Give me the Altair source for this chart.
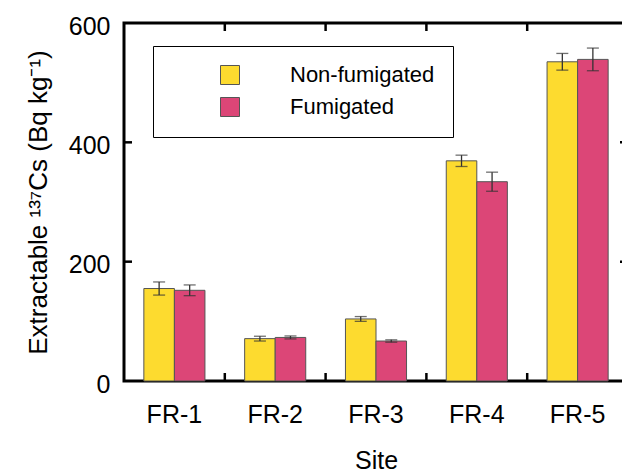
import altair as alt
import pandas as pd

sites = ["FR-1", "FR-2", "FR-3", "FR-4", "FR-5"]
treatments = ["Non-fumigated", "Fumigated"]
non_fum = [155, 71, 104, 369, 535]
non_fum_err = [11, 4, 4, 9.5, 14]
fum = [152, 73, 67, 334, 539]
fum_err = [9, 2.5, 2, 16, 19]
y_ticks = [0, 200, 400, 600]

rows = []
for i, s in enumerate(sites):
    for t, v, e in ((treatments[0], non_fum[i], non_fum_err[i]), (treatments[1], fum[i], fum_err[i])):
        rows.append(dict(site=s, trt=t, value=v, lo=v - e, hi=v + e))
df = pd.DataFrame(rows)

xtick_df = pd.DataFrame({"site": sites[1:]})
ytick_df = pd.DataFrame({"v": y_ticks[1:-1]})

W, H = 504, 358
FONT = "Liberation Sans"
YELLOW = "#FDDB2F"
PINK = "#DC4677"

xscale = alt.Scale(domain=sites, paddingInner=0, paddingOuter=0)
yscale = alt.Scale(domain=[0, 600])
xo = alt.XOffset("trt:N", sort=treatments,
                 scale=alt.Scale(domain=treatments, paddingInner=0, paddingOuter=0.65))

x_main = alt.X("site:N", sort=sites, scale=xscale,
               axis=alt.Axis(title="Site", labelAngle=0, ticks=False, domain=False,
                             labelFontSize=25, labelPadding=21, titleFontSize=25,
                             titlePadding=21, titleFontWeight="normal",
                             labelColor="black", titleColor="black"))
y_main = alt.Y("value:Q", scale=yscale,
               axis=alt.Axis(title="Extractable ¹³⁷Cs (Bq kg⁻¹)", values=y_ticks,
                             ticks=False, domain=False, grid=False,
                             labelFontSize=25, labelPadding=14, labelOffset=3,
                             titleFontSize=26, titleFontWeight="normal", titlePadding=17,
                             labelColor="black", titleColor="black"))

bars = alt.Chart(df).mark_bar(stroke="#555555", strokeWidth=1).encode(
    x=x_main,
    xOffset=xo,
    y=y_main,
    color=alt.Color("trt:N", sort=treatments,
                    scale=alt.Scale(domain=treatments, range=[YELLOW, PINK]),
                    legend=alt.Legend(title=None, orient="none", legendX=29, legendY=23,
                                      padding=18, strokeColor="black",
                                      symbolType="square", symbolSize=361,
                                      symbolOffset=48, labelOffset=49,
                                      labelFontSize=22, rowPadding=8, labelLimit=300,
                                      labelExpr="datum.label + '\u00a0\u00a0'",
                                      symbolStrokeWidth=1, labelColor="black")),
)

xe = alt.X("site:N", sort=sites, scale=xscale)
err = alt.Chart(df).mark_rule(color="#333333", strokeWidth=1.3).encode(
    x=xe, xOffset=xo, y=alt.Y("lo:Q", scale=yscale), y2="hi:Q")
cap_hi = alt.Chart(df).mark_tick(color="#333333", thickness=1.3, size=12).encode(
    x=xe, xOffset=xo, y=alt.Y("hi:Q", scale=yscale))
cap_lo = alt.Chart(df).mark_tick(color="#333333", thickness=1.3, size=12).encode(
    x=xe, xOffset=xo, y=alt.Y("lo:Q", scale=yscale))

xb = alt.X("site:N", sort=sites, scale=xscale, bandPosition=0)
xt_bottom = alt.Chart(xtick_df).mark_rule(color="black", strokeWidth=2.5).encode(
    x=xb, y=alt.value(H), y2=alt.value(H - 8))
xt_top = alt.Chart(xtick_df).mark_rule(color="black", strokeWidth=2.5).encode(
    x=xb, y=alt.value(0), y2=alt.value(8))
yt_left = alt.Chart(ytick_df).mark_rule(color="black", strokeWidth=2.5).encode(
    y=alt.Y("v:Q", scale=yscale), x=alt.value(0), x2=alt.value(8))
yt_right = alt.Chart(ytick_df).mark_rule(color="black", strokeWidth=2.5).encode(
    y=alt.Y("v:Q", scale=yscale), x=alt.value(W), x2=alt.value(W - 8))

chart = alt.layer(bars, err, cap_hi, cap_lo, xt_bottom, xt_top, yt_left, yt_right).properties(
    width=W, height=H,
    autosize=alt.AutoSizeParams(type="none"),
    padding={"left": 124, "top": 23, "right": -6, "bottom": 94},
    background="white",
).configure(font=FONT).configure_view(stroke="black", strokeWidth=3)

chart.save("out.html", embed_options={"renderer": "svg", "actions": False})
